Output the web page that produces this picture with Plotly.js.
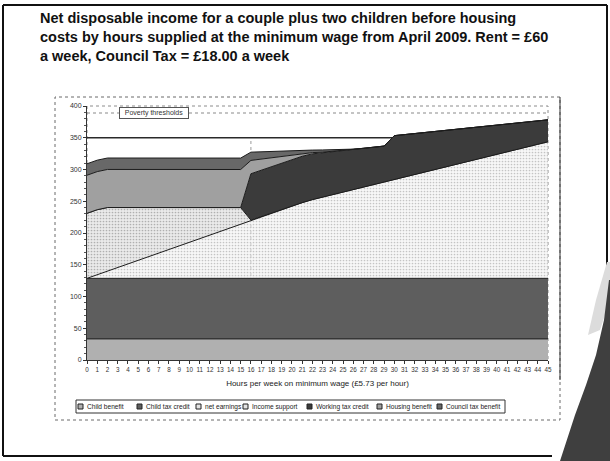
<!DOCTYPE html>
<html>
<head>
<meta charset="utf-8">
<script src="https://cdn.plot.ly/plotly-3.0.1.min.js"></script>
<style>
  html, body { margin: 0; padding: 0; background: #ffffff; }
  #chart { width: 610px; height: 461px; }
</style>
</head>
<body>
<div id="chart"></div>
<script>
// Hours worked per week at the minimum wage
const hours = [0,1,2,3,4,5,6,7,8,9,10,11,12,13,14,15,16,17,18,19,20,21,22,
  23,24,25,26,27,28,29,30,31,32,33,34,35,36,37,38,39,40,41,42,43,44,45];

// Weekly amounts (£), stacked from the bottom up
const childBenefit = [33.2,33.2,33.2,33.2,33.2,33.2,33.2,33.2,33.2,33.2,33.2,33.2,
  33.2,33.2,33.2,33.2,33.2,33.2,33.2,33.2,33.2,33.2,33.2,33.2,33.2,33.2,33.2,33.2,
  33.2,33.2,33.2,33.2,33.2,33.2,33.2,33.2,33.2,33.2,33.2,33.2,33.2,33.2,33.2,33.2,33.2,33.2];
const childTaxCredit = [95.4,95.4,95.4,95.4,95.4,95.4,95.4,95.4,95.4,95.4,95.4,95.4,
  95.4,95.4,95.4,95.4,95.4,95.4,95.4,95.4,95.4,95.4,95.4,95.4,95.4,95.4,95.4,95.4,
  95.4,95.4,95.4,95.4,95.4,95.4,95.4,95.4,95.4,95.4,95.4,95.4,95.4,95.4,95.4,95.4,95.4,95.4];
const netEarnings = [0,5.7,11.5,17.2,22.9,28.7,34.4,40.1,45.8,51.6,57.3,63.0,68.8,
  74.5,80.2,86.0,91.7,97.4,103.1,108.9,114.1,119.2,124.0,127.9,131.9,135.9,139.8,
  143.8,147.7,151.7,155.7,159.6,163.6,167.5,171.5,175.5,179.4,183.4,187.3,191.3,
  195.3,199.2,203.2,207.1,211.1,215.1];
const incomeSupport = [102.4,102.4,100.0,94.2,88.5,82.7,77.0,71.3,65.5,59.8,54.1,
  48.4,42.6,36.9,31.2,25.4,0,0,0,0,0,0,0,0,0,0,0,0,0,0,0,0,0,0,0,0,0,0,0,0,0,0,0,0,0,0];
const workingTaxCredit = [0,0,0,0,0,0,0,0,0,0,0,0,0,0,0,0,73,73,73,73,73,73,72,69.8,
  67.6,65.4,63.2,61.0,58.8,56.6,69.0,66.7,64.4,62.1,59.8,57.5,55.2,52.9,50.6,48.3,
  46.0,43.7,41.4,39.1,36.8,34.5];
const housingBenefit = [60,60,60,60,60,60,60,60,60,60,60,60,60,60,60,60,21,17.5,14,
  10.5,7,4,2,1,0.5,0,0,0,0,0,0,0,0,0,0,0,0,0,0,0,0,0,0,0,0,0];
const councilTaxBenefit = [18,18,18,18,18,18,18,18,18,18,18,18,18,18,18,18,13,11.5,10,
  8.5,7,5,4,3.5,2.5,1.5,0.5,0,0,0,0,0,0,0,0,0,0,0,0,0,0,0,0,0,0,0];

// Poverty threshold levels (£ per week)
const povertyThresholds = [350, 389];
const thresholdLabel = 'Poverty thresholds';

const seriesNames = ['Child benefit', 'Child tax credit', 'net earnings', 'Income support',
  'Working tax credit', 'Housing benefit', 'Council tax benefit'];
const seriesValues = [childBenefit, childTaxCredit, netEarnings, incomeSupport,
  workingTaxCredit, housingBenefit, councilTaxBenefit];

// Greyscale fills for each band
const fills = [
  { color: '#b0b0b0' },
  { color: '#5e5e5e' },
  { color: 'rgba(240,240,240,0.55)', dots: '#c4c4c4' },
  { color: 'rgba(226,226,226,0.75)', dots: '#b0b0b0' },
  { color: '#3b3b3b' },
  { color: '#a0a0a0' },
  { color: '#686868' }
];

const FONT = '"Liberation Sans", Arial, sans-serif';

// Plot area in pixels
const M = { l: 87, r: 62, t: 106, b: 101 };
const W = 610, H = 461;
const PW = W - M.l - M.r, PH = H - M.t - M.b;
const px = x => (x - M.l) / PW;
const py = y => (H - M.b - y) / PH;

const traces = [];

// threshold lines sit underneath the stacked bands
povertyThresholds.forEach((v, i) => {
  traces.push({
    x: [hours[0], hours[hours.length - 1]],
    y: [v, v],
    mode: 'lines',
    hoverinfo: 'skip',
    showlegend: false,
    line: i === 0 ? { color: '#2a2a2a', width: 1.6 } : { color: '#8a8a8a', width: 1.2, dash: 'dot' }
  });
});

seriesValues.forEach((vals, i) => {
  const f = fills[i];
  const t = {
    x: hours,
    y: vals,
    name: seriesNames[i],
    mode: 'lines',
    stackgroup: 'income',
    line: { color: '#1c1c1c', width: 1 },
    fillcolor: f.color,
    showlegend: false
  };
  if (f.dots) {
    t.fillpattern = { shape: '.', fgcolor: f.dots, bgcolor: f.color, size: 3, solidity: 0.25 };
  }
  traces.push(t);
});

const shapes = [];
const annotations = [];

// vertical marker at 16 hours
shapes.push({
  type: 'line', xref: 'x', yref: 'y', layer: 'below',
  x0: hours[16], x1: hours[16], y0: 0, y1: povertyThresholds[0],
  line: { color: '#9a9a9a', width: 1, dash: 'dot' }
});

// plot area outline
shapes.push({
  type: 'rect', xref: 'paper', yref: 'paper', layer: 'below',
  x0: 0, x1: 1, y0: 0, y1: 1,
  line: { color: '#8c8c8c', width: 1, dash: 'dot' }
});

// chart object frame
shapes.push({
  type: 'rect', xref: 'paper', yref: 'paper', layer: 'below',
  x0: px(55), x1: px(560), y0: py(420), y1: py(97),
  line: { color: '#6a6a6a', width: 1, dash: 'dot' }
});
shapes.push({
  type: 'line', xref: 'paper', yref: 'paper',
  x0: px(560), x1: px(560), y0: py(97), y1: py(380),
  line: { color: '#333', width: 1 }
});

// slide frame
const frame = [[3, 5, 607, 5], [3, 5, 3, 456], [3, 456, 552, 456], [607, 5, 607, 285]];
frame.forEach(([a, b, c, d]) => shapes.push({
  type: 'line', xref: 'paper', yref: 'paper',
  x0: px(a), y0: py(b), x1: px(c), y1: py(d),
  line: { color: '#111', width: 2 }
}));

// page curl in the lower right corner
const pathPx = (pts) => 'M ' + pts.map(([a, b]) => px(a) + ',' + py(b)).join(' L ') + ' Z';
shapes.push({
  type: 'path', xref: 'paper', yref: 'paper',
  path: pathPx([[607, 262], [596, 300], [588, 335], [600, 330], [610, 300], [610, 262]]),
  fillcolor: '#dcdcdc', line: { width: 0 }
});
shapes.push({
  type: 'path', xref: 'paper', yref: 'paper',
  path: pathPx([[609, 280], [604, 320], [596, 355], [586, 385], [575, 415], [560, 461], [610, 461], [610, 280]]),
  fillcolor: '#3f3f3f', line: { width: 0 }
});

// threshold label
annotations.push({
  xref: 'x', yref: 'y', x: 6.5, y: povertyThresholds[1],
  text: thresholdLabel, showarrow: false,
  font: { family: FONT, size: 7, color: '#333' },
  bgcolor: '#ffffff', bordercolor: '#555', borderwidth: 1, borderpad: 1,
  width: 66
});

// legend row
const legendLeft = 76, legendRight = 505, legendTop = 400, legendBottom = 413;
shapes.push({
  type: 'rect', xref: 'paper', yref: 'paper',
  x0: px(legendLeft), x1: px(legendRight), y0: py(legendBottom), y1: py(legendTop),
  line: { color: '#333', width: 1 }
});
const legendX = [78, 137, 196, 243, 307, 377, 437];
const legendMid = (legendTop + legendBottom) / 2;
seriesNames.forEach((name, i) => {
  const x0 = legendX[i];
  const f = fills[i];
  shapes.push({
    type: 'rect', xref: 'paper', yref: 'paper',
    x0: px(x0), x1: px(x0 + 5), y0: py(legendMid + 2.5), y1: py(legendMid - 2.5),
    fillcolor: f.dots ? '#e4e4e4' : f.color,
    line: { color: '#222', width: 1 }
  });
  annotations.push({
    xref: 'paper', yref: 'paper', x: px(x0 + 6.5), y: py(legendMid),
    xanchor: 'left', yanchor: 'middle', showarrow: false,
    text: name, font: { family: FONT, size: 6.6, color: '#222' }
  });
});

const layout = {
  width: W, height: H,
  margin: M,
  paper_bgcolor: '#ffffff',
  plot_bgcolor: '#ffffff',
  showlegend: false,
  title: {
    text: 'Net disposable income for a couple plus two children before housing<br>' +
          'costs by hours supplied at the minimum wage from April 2009. Rent = £60<br>' +
          'a week, Council Tax = £18.00 a week',
    font: { family: FONT, size: 14.5, color: '#111', weight: 700 },
    xref: 'container', yref: 'container',
    x: 40 / W, xanchor: 'left',
    y: 1 - 23 / H, yanchor: 'top'
  },
  xaxis: {
    range: [hours[0], hours[hours.length - 1]],
    tickvals: hours,
    ticktext: hours.map(String),
    tickfont: { family: FONT, size: 6.3, color: '#333' },
    ticks: 'outside', ticklen: 3, tickcolor: '#333',
    showline: true, linecolor: '#333', linewidth: 1,
    showgrid: false, zeroline: false,
    title: {
      text: 'Hours per week on minimum wage (£5.73 per hour)',
      font: { family: FONT, size: 8, color: '#222' },
      standoff: 8
    }
  },
  yaxis: {
    range: [0, 400],
    dtick: 50,
    tickfont: { family: FONT, size: 7, color: '#333' },
    ticks: 'outside', ticklen: 3, tickcolor: '#333',
    minor: { ticks: 'outside', dtick: 10, ticklen: 2, tickcolor: '#555' },
    showline: true, linecolor: '#333', linewidth: 1,
    showgrid: false, zeroline: false
  },
  shapes: shapes,
  annotations: annotations
};

Plotly.newPlot('chart', traces, layout, { staticPlot: true, displayModeBar: false });
</script>
</body>
</html>
